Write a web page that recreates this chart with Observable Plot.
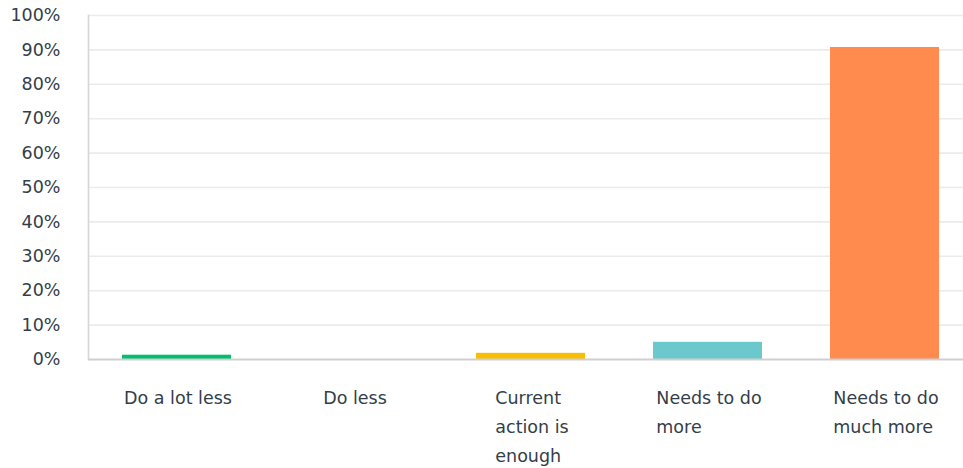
<!DOCTYPE html>
<html>
<head>
<meta charset="utf-8">
<script src="https://cdn.jsdelivr.net/npm/d3@7"></script>
<script src="https://cdn.jsdelivr.net/npm/@observablehq/plot@0.6"></script>
<style>
  html, body { margin: 0; padding: 0; background: #fff; }
  #chart { width: 963px; height: 468px; }
</style>
</head>
<body>
<div id="chart"></div>
<script>
const categories = ["Do a lot less", "Do less", "Current action is enough", "Needs to do more", "Needs to do much more"];
const labelLines = [["Do a lot less"], ["Do less"], ["Current", "action is", "enough"], ["Needs to do", "more"], ["Needs to do", "much more"]];
const values = [1.25, 0, 1.8, 5.0, 90.7];
const colors = ["#00bf6f", "#507cb6", "#f9be00", "#6bc8cd", "#ff8b4f"];
const yTicks = [0, 10, 20, 30, 40, 50, 60, 70, 80, 90, 100];
const yTickLabels = ["0%", "10%", "20%", "30%", "40%", "50%", "60%", "70%", "80%", "90%", "100%"];

const FONT = "'DejaVu Sans', sans-serif";
const FS = 17.5;
const data = categories.map((c, i) => ({category: c, value: values[i], color: colors[i], lines: labelLines[i]}));

const ctx = document.createElement("canvas").getContext("2d");
ctx.font = `${FS}px 'DejaVu Sans'`;
const blockWidth = lines => Math.max(...lines.map(l => ctx.measureText(l).width));

const labelMarks = data.map(d => Plot.text([d], {
  x: "category",
  y: () => 0,
  text: d => d.lines.join("\n"),
  textAnchor: "start",
  lineAnchor: "top",
  lineHeight: 1.66,
  dx: -blockWidth(d.lines) / 2 + 1,
  dy: 24,
  fontSize: FS,
  fill: "#333e48"
}));

const chart = Plot.plot({
  width: 963,
  height: 468,
  marginLeft: 88,
  marginRight: 0,
  marginTop: 15,
  marginBottom: 109,
  style: {fontFamily: FONT, fontSize: FS + "px", color: "#333e48", background: "#fff", overflow: "visible"},
  x: {domain: categories, range: [88, 973], paddingInner: 0.384, paddingOuter: 0.192, axis: null},
  y: {domain: [0, 100], axis: null},
  marks: [
    Plot.ruleY(yTicks.filter(t => t > 0), {stroke: "#ebebeb", strokeWidth: 1.6}),
    Plot.frame({anchor: "left", stroke: "#d6d6d6", strokeWidth: 1.6}),
    Plot.barY(data, {x: "category", y: "value", fill: "color"}),
    Plot.ruleY([0], {stroke: "#cfcfcf", strokeWidth: 2}),
    Plot.text(yTicks, {
      y: d => d,
      frameAnchor: "left",
      text: (d, i) => yTickLabels[i],
      textAnchor: "end",
      dx: -28,
      fontSize: FS,
      fill: "#333e48"
    }),
    ...labelMarks
  ]
});

document.getElementById("chart").appendChild(chart);
</script>
</body>
</html>
